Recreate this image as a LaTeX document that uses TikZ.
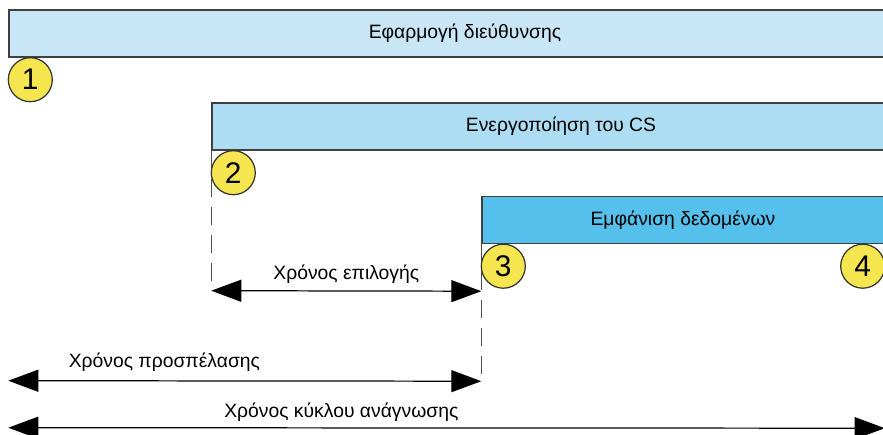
\documentclass[tikz,border=0pt]{standalone}
\usepackage{fontspec}
\setmainfont{Liberation Sans}
\usetikzlibrary{arrows.meta, positioning, calc}
\definecolor{addrblue}{RGB}{200,230,245}
\definecolor{csblue}{RGB}{172,221,243}
\definecolor{datablue}{RGB}{86,192,236}
\definecolor{markyellow}{RGB}{245,230,80}
\tikzset{every node/.append style={align=center, inner sep=3pt}}

\begin{document}
\begin{tikzpicture}[
    bar/.style={rectangle, draw=black!75, line width=0.8pt, minimum height=0.94cm,
        inner sep=0pt, font=\fontsize{11}{13}\selectfont},
    num/.style={circle, draw=black!80, fill=markyellow, line width=0.7pt,
        minimum size=0.88cm, inner sep=0pt, font=\fontsize{17}{19}\selectfont},
    guide/.style={black!70, line width=0.6pt, dash pattern=on 0.36cm off 0.2cm},
    span/.style={{Triangle[length=0.6cm, width=0.44cm]}-{Triangle[length=0.6cm, width=0.44cm]},
        line width=0.7pt, black},
    lbl/.style={font=\fontsize{11}{13}\selectfont, anchor=base, inner sep=0pt}
]
\useasboundingbox (0,0) rectangle (17.66,8.68);
\clip (0,0) rectangle (17.66,8.68);
% signal bars
\node[bar, fill=addrblue, minimum width=18.24cm] (addr) at (9.30,8.01) {Εφαρμογή διεύθυνσης};
\node[bar, fill=csblue, minimum width=13.96cm] (act) at (11.22,6.15) {Ενεργοποίηση του CS};
\node[bar, fill=datablue, minimum width=8.04cm] (data) at (13.66,4.28) {Εμφάνιση δεδομένων};
% end points of the time spans
\coordinate (selL) at ($(act.south west)+(0,-2.80)$);
\coordinate (selR) at ($(data.south west)+(0,-0.94)$);
\coordinate (accL) at ($(addr.south west)+(0,-6.46)$);
\coordinate (accR) at ($(data.south west)+(0,-2.74)$);
\coordinate (cycL) at ($(addr.south west)+(0,-7.40)$);
\coordinate (cycR) at ($(data.south east)+(0,-3.68)$);
\draw[guide] (act.south west) -- (selL);
\draw[guide] (data.south west) -- (accR);
% numbered marks
\node[num] (m1) at ($(addr.south west)+(0.44,-0.44)$) {1};
\node[num] (m2) at ($(act.south west)+(0.44,-0.44)$) {2};
\node[num] (m3) at ($(data.south west)+(0.44,-0.44)$) {3};
\node[num] (m4) at ($(data.south east)+(-0.44,-0.44)$) {4};
% time spans
\draw[span] (selL) -- node[lbl, yshift=0.22cm] (tsel) {Χρόνος επιλογής} (selR);
\draw[span] (accL) -- node[lbl, pos=0.33, yshift=0.26cm] (tacc) {Χρόνος προσπέλασης} (accR);
\draw[span] (cycL) -- node[lbl, pos=0.38, yshift=0.2cm] (tcyc) {Χρόνος κύκλου ανάγνωσης} (cycR);
\end{tikzpicture}
\end{document}
